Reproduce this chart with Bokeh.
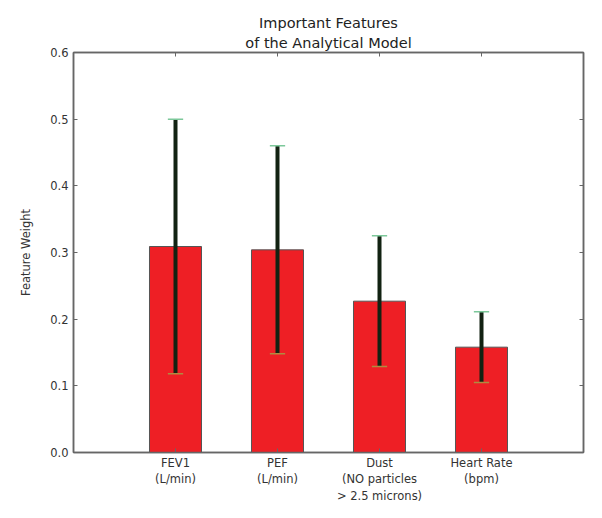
from bokeh.plotting import figure
from bokeh.models import (ColumnDataSource, FixedTicker, LinearAxis, Range1d, Title)
from bokeh.embed import file_html
from bokeh.resources import INLINE

title_lines = ["Important Features", "of the Analytical Model"]
categories = ["FEV1\n(L/min)", "PEF\n(L/min)", "Dust\n(NO particles\n> 2.5 microns)", "Heart Rate\n(bpm)"]
weights = [0.309, 0.304, 0.227, 0.158]
errors = [0.191, 0.156, 0.098, 0.053]
y_ticks = [0.0, 0.1, 0.2, 0.3, 0.4, 0.5, 0.6]

xs = list(range(len(categories)))
cap = 0.075
src = ColumnDataSource(dict(
    x=xs, top=weights,
    upper=[w + e for w, e in zip(weights, errors)],
    lower=[w - e for w, e in zip(weights, errors)],
    xl=[x - cap for x in xs], xr=[x + cap for x in xs],
))

FONT = "DejaVu Sans"
AXC = "#666666"
TXT = "#333333"

p = figure(width=586, height=508, output_backend="svg", toolbar_location=None,
           x_range=Range1d(-1, 4), y_range=Range1d(0, 0.6),
           min_border_left=73, min_border_right=3, min_border_top=52, min_border_bottom=56,
           x_axis_location=None, y_axis_location=None)
p.title = None
p.grid.visible = False
p.outline_line_color = AXC
p.outline_line_width = 1.5
p.background_fill_color = "white"
p.border_fill_color = "white"

p.vbar(x="x", top="top", bottom=0, width=0.51, source=src,
       fill_color="#ee1f25", line_color="#555555", line_width=1)

# error bars: stem and caps
p.segment(x0="x", y0="lower", x1="x", y1="upper", source=src,
          line_color="#122212", line_width=4)
p.segment(x0="xl", y0="upper", x1="xr", y1="upper", source=src,
          line_color="#7cc89a", line_width=1.5)
p.segment(x0="xl", y0="lower", x1="xr", y1="lower", source=src,
          line_color="#b08a40", line_width=1.5)

def style(ax, labels=True):
    ax.axis_line_color = AXC
    ax.axis_line_width = 1.5
    ax.major_tick_line_color = AXC
    ax.major_tick_in = 4
    ax.major_tick_out = 0
    ax.minor_tick_line_color = None
    ax.major_label_text_font = FONT
    ax.major_label_text_font_size = "11.5px"
    ax.major_label_text_color = TXT
    if not labels:
        ax.major_label_text_font_size = "0px"
        ax.major_label_text_color = None
        ax.major_label_standoff = 0

left = LinearAxis(ticker=FixedTicker(ticks=y_ticks))
style(left)
left.major_label_overrides = {t: f"{t:.1f}" for t in y_ticks}
left.axis_label = "Feature Weight"
left.axis_label_text_font = FONT
left.axis_label_text_font_size = "11.5px"
left.axis_label_text_font_style = "normal"
left.axis_label_text_color = TXT
left.axis_label_standoff = 14
p.add_layout(left, "left")

right = LinearAxis(ticker=FixedTicker(ticks=y_ticks))
style(right, labels=False)
p.add_layout(right, "right")

bottom = LinearAxis(ticker=FixedTicker(ticks=xs))
style(bottom)
bottom.major_label_overrides = {i: c for i, c in zip(xs, categories)}
bottom.major_label_standoff = 3
p.add_layout(bottom, "below")

top = LinearAxis(ticker=FixedTicker(ticks=xs))
style(top, labels=False)
p.add_layout(top, "above")

for i, line in enumerate(reversed(title_lines)):
    t = Title(text=line, align="center",
              text_font=FONT, text_font_size="14.5px", text_font_style="normal",
              text_color="#222222", standoff=(4 if i == 0 else 0), offset=0)
    p.add_layout(t, "above")

open("out.html", "w").write(file_html(p, INLINE))
